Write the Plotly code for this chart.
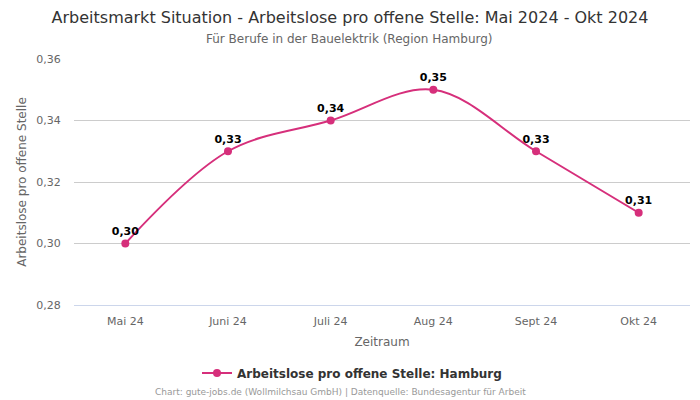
import plotly.graph_objects as go

months = ["Mai 24", "Juni 24", "Juli 24", "Aug 24", "Sept 24", "Okt 24"]
values = [0.30, 0.33, 0.34, 0.35, 0.33, 0.31]
labels = ["0,30", "0,33", "0,34", "0,35", "0,33", "0,31"]
yticks = [0.28, 0.30, 0.32, 0.34, 0.36]
yticklabels = ["0,28", "0,30", "0,32", "0,34", "0,36"]
series_name = "Arbeitslose pro offene Stelle: Hamburg"
color = "#d62f7b"
font = "DejaVu Sans"

PLOT_LEFT, PLOT_RIGHT = 74, 690
PLOT_TOP, PLOT_BOTTOM = 59, 305


def paper_y(py):
    return (PLOT_BOTTOM - py) / (PLOT_BOTTOM - PLOT_TOP)


def paper_x(px):
    return (px - PLOT_LEFT) / (PLOT_RIGHT - PLOT_LEFT)


fig = go.Figure()
fig.add_trace(go.Scatter(
    x=months, y=values, mode="lines+markers+text",
    name=series_name,
    line=dict(color=color, width=2, shape="spline", smoothing=1.0),
    marker=dict(color=color, size=8),
    text=labels, textposition="top center",
    textfont=dict(family=font, size=11, color="#000000", weight="bold"),
    cliponaxis=False,
))

fig.update_layout(
    width=700, height=400,
    margin=dict(l=PLOT_LEFT, r=700 - PLOT_RIGHT, t=PLOT_TOP, b=400 - PLOT_BOTTOM, autoexpand=False),
    paper_bgcolor="white", plot_bgcolor="white",
    font=dict(family=font, color="#666666"),
    title=dict(
        text="Arbeitsmarkt Situation - Arbeitslose pro offene Stelle: Mai 2024 - Okt 2024",
        x=0.5, xanchor="center", yref="container", y=1 - 17 / 400, yanchor="middle",
        font=dict(family=font, size=16, color="#333333"),
    ),
    xaxis=dict(
        title=dict(text="Zeitraum", font=dict(size=12, color="#666666"), standoff=10),
        tickfont=dict(size=11, color="#666666"),
        showgrid=False, showline=True, linecolor="#ccd6eb", linewidth=1,
        range=[-0.5, 5.5], ticks="outside", ticklen=6, tickcolor="rgba(0,0,0,0)",
        automargin=False,
    ),
    yaxis=dict(
        title=dict(text="Arbeitslose pro offene Stelle", font=dict(size=12, color="#666666"), standoff=7),
        tickfont=dict(size=11, color="#666666"),
        range=[0.28, 0.36], tickvals=yticks, ticktext=yticklabels,
        showgrid=True, gridcolor="#cccccc", gridwidth=1, zeroline=False,
        ticks="outside", ticklen=10, tickcolor="rgba(0,0,0,0)",
        automargin=False,
    ),
    showlegend=True,
    legend=dict(
        orientation="h", x=paper_x(352), xanchor="center",
        y=paper_y(373), yanchor="middle",
        font=dict(size=12, color="#333333", weight="bold"),
        itemwidth=30,
    ),
    annotations=[
        dict(
            text="Für Berufe in der Bauelektrik (Region Hamburg)",
            x=paper_x(349), xref="paper", xanchor="center",
            y=paper_y(39), yref="paper", yanchor="middle",
            showarrow=False, font=dict(size=12, color="#666666"),
        ),
        dict(
            text="Chart: gute-jobs.de (Wollmilchsau GmbH) | Datenquelle: Bundesagentur für Arbeit",
            x=paper_x(340), xref="paper", xanchor="center",
            y=paper_y(392), yref="paper", yanchor="middle",
            showarrow=False, font=dict(size=9, color="#999999"),
        ),
    ],
)
fig.write_html(
    "out.html",
    config={"displayModeBar": False},
    post_script="document.body.style.margin='0';document.body.style.overflow='hidden';",
)
